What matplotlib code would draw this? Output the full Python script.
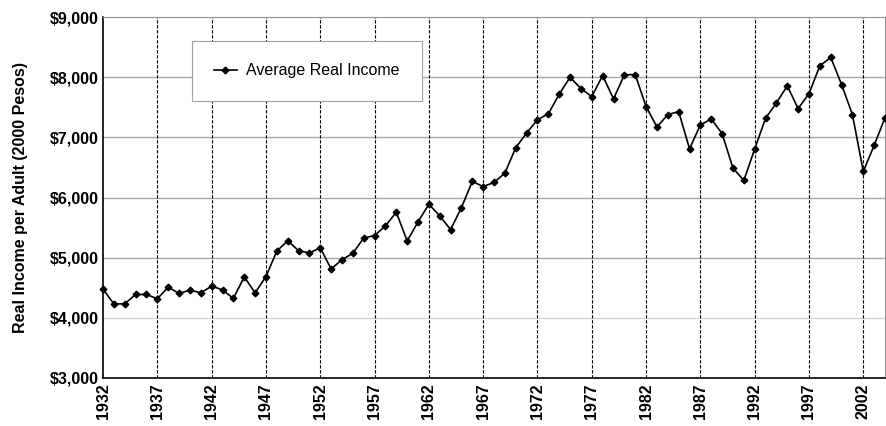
import matplotlib.pyplot as plt
from matplotlib.ticker import FuncFormatter

plt.rcParams['font.family'] = ['Liberation Sans', 'DejaVu Sans']

# data
years = list(range(1932, 2005))
income = [4477, 4229, 4234, 4388, 4388, 4317, 4510, 4405, 4460, 4416,
          4526, 4466, 4322, 4680, 4416, 4686, 5110, 5281, 5116, 5077,
          5165, 4812, 4967, 5072, 5328, 5367, 5528, 5756, 5278, 5594,
          5889, 5694, 5467, 5833, 6267, 6183, 6250, 6406, 6828, 7072,
          7294, 7391, 7717, 8000, 7811, 7678, 8028, 7639, 8039, 8044,
          7511, 7172, 7378, 7428, 6811, 7206, 7306, 7061, 6489, 6283,
          6806, 7317, 7572, 7856, 7478, 7728, 8189, 8328, 7878, 7378,
          6433, 6867, 7328]
xticks = list(range(1932, 2003, 5))
yticks = [3000, 4000, 5000, 6000, 7000, 8000, 9000]

fig = plt.figure(figsize=(8.86, 4.26), dpi=100)
ax = fig.add_axes([0.1163, 0.1127, 0.8826, 0.8473])

# horizontal grid
for v in yticks[1:-1]:
    c = '#d4d4d4' if v == 4000 else '#a8a8a8'
    ax.axhline(v, color=c, lw=1.0, zorder=1)
# vertical dashed lines
for x in xticks[1:]:
    ax.axvline(x, color='black', lw=0.8, ls=(0, (3, 1.5)), zorder=1)

ax.plot(years, income, color='black', lw=1.2, marker='D', markersize=3.4,
        label='Average Real Income', zorder=3, clip_on=False)

ax.set_xlim(1932, 2004)
ax.set_ylim(3000, 9000)
ax.set_xticks(xticks)
ax.set_yticks(yticks)
ax.yaxis.set_major_formatter(FuncFormatter(lambda v, p: '${:,.0f}'.format(v)))
ax.tick_params(axis='both', length=0, labelsize=11.5, pad=3)
ax.tick_params(axis='x', labelrotation=90, pad=4)
for lab in ax.get_xticklabels() + ax.get_yticklabels():
    lab.set_fontweight('bold')

ax.set_ylabel('Real Income per Adult (2000 Pesos)', fontsize=11.5,
              fontweight='bold', labelpad=16)

ax.spines['left'].set_color('black')
ax.spines['bottom'].set_color('black')
ax.spines['left'].set_linewidth(1.2)
ax.spines['bottom'].set_linewidth(1.2)
ax.spines['top'].set_color('#909090')
ax.spines['right'].set_color('#909090')

leg = ax.legend(loc='center', bbox_to_anchor=(0.1137, 0.767, 0.294, 0.169),
                mode='expand', borderaxespad=0, fontsize=11.5, borderpad=1.4,
                handlelength=1.4, handletextpad=0.6, fancybox=False,
                framealpha=1, edgecolor='#a0a0a0')
leg.get_frame().set_linewidth(0.8)
leg.set_zorder(5)

fig.savefig('out.png', dpi=100)
